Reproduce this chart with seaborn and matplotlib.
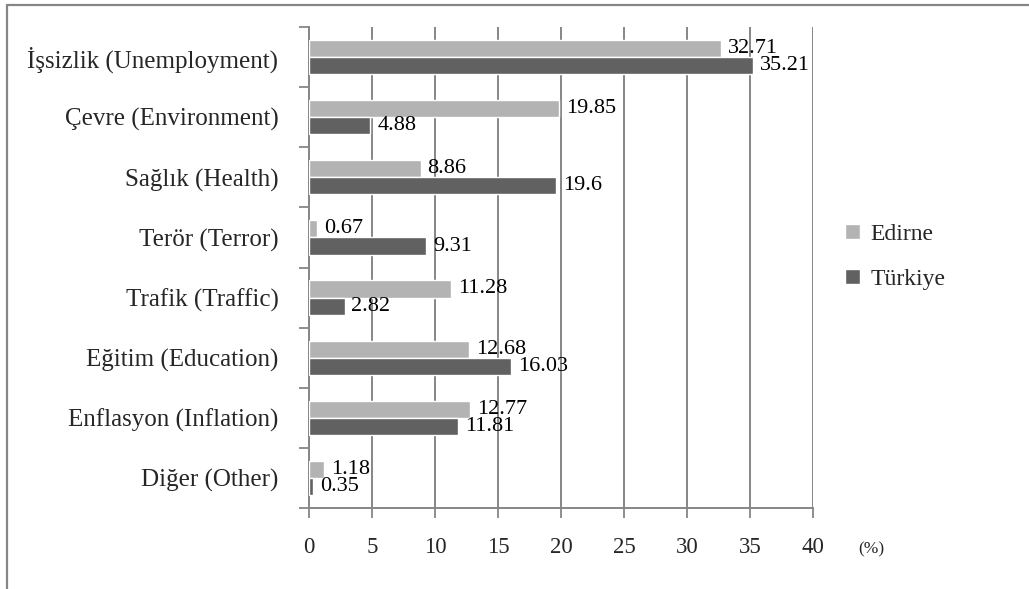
import matplotlib
matplotlib.use("Agg")
import matplotlib.pyplot as plt
from matplotlib.lines import Line2D
import numpy as np
import pandas as pd
import seaborn as sns

categories = ["İşsizlik (Unemployment)", "Çevre (Environment)", "Sağlık (Health)",
              "Terör (Terror)", "Trafik (Traffic)", "Eğitim (Education)",
              "Enflasyon (Inflation)", "Diğer (Other)"]
edirne = [32.71, 19.85, 8.86, 0.67, 11.28, 12.68, 12.77, 1.18]
turkiye = [35.21, 4.88, 19.6, 9.31, 2.82, 16.03, 11.81, 0.35]
series_names = ["Edirne", "Türkiye"]
xticks = [0, 5, 10, 15, 20, 25, 30, 35, 40]

df = pd.DataFrame({
    "Category": categories * 2,
    "Value": edirne + turkiye,
    "Region": [series_names[0]] * len(categories) + [series_names[1]] * len(categories),
})

sns.set_theme(style="white")
plt.rcParams["font.family"] = ["Liberation Serif", "DejaVu Serif"]

GRID = "#868686"
fig = plt.figure(figsize=(10.29, 5.89), dpi=100)
ax = fig.add_axes([309/1029, 1-508/589, (813-309)/1029, (508-27)/589])

sns.barplot(data=df, y="Category", x="Value", hue="Region", orient="h",
            palette={"Edirne": "#b3b3b3", "Türkiye": "#616161"},
            width=0.57, gap=0, saturation=1, ax=ax, legend=True, zorder=3)

for cont in ax.containers:
    ax.bar_label(cont, fmt="%g", padding=5, fontsize=16, color="black", zorder=4)

ax.set_xlim(0, 40)
ax.set_xticks(xticks)
ax.set_xticklabels([str(t) for t in xticks], fontsize=16.5)
ax.set_ylim(len(categories) - 0.5, -0.5)
ax.set_yticks(range(len(categories)))
ax.set_yticklabels(categories, fontsize=18)
ax.set_yticks(np.arange(-0.5, len(categories)), minor=True)
ax.tick_params(axis="y", which="major", length=0, pad=22)
ax.tick_params(axis="y", which="minor", length=7, width=1.3, color=GRID, direction="out", left=True)
ax.tick_params(axis="x", which="major", length=7, width=1.3, color=GRID, direction="out", bottom=True, pad=14)
ax.set_xlabel("")
ax.set_ylabel("")
ax.grid(axis="x", color=GRID, linewidth=1.4, zorder=0)
ax.grid(axis="y", visible=False)
ax.set_axisbelow(True)
for s in ["top", "right"]:
    ax.spines[s].set_visible(False)
for s in ["left", "bottom"]:
    ax.spines[s].set_color(GRID)
    ax.spines[s].set_linewidth(1.4)

leg = ax.legend(loc="center left", bbox_to_anchor=(836/1029, 1-257/589),
                bbox_transform=fig.transFigure, frameon=False, fontsize=17,
                handlelength=0.6, handleheight=0.6, handletextpad=0.45,
                labelspacing=1.0, borderaxespad=0)

fig.text(858/1029, 1-549/589, "(%)", fontsize=12.5, ha="left", va="center")

fig.add_artist(Line2D([7/1029, 7/1029], [0, 1-5/589], color=GRID, linewidth=1.6))
fig.add_artist(Line2D([7/1029, 1], [1-5/589, 1-5/589], color=GRID, linewidth=1.6))

fig.savefig("out.png", dpi=100)
